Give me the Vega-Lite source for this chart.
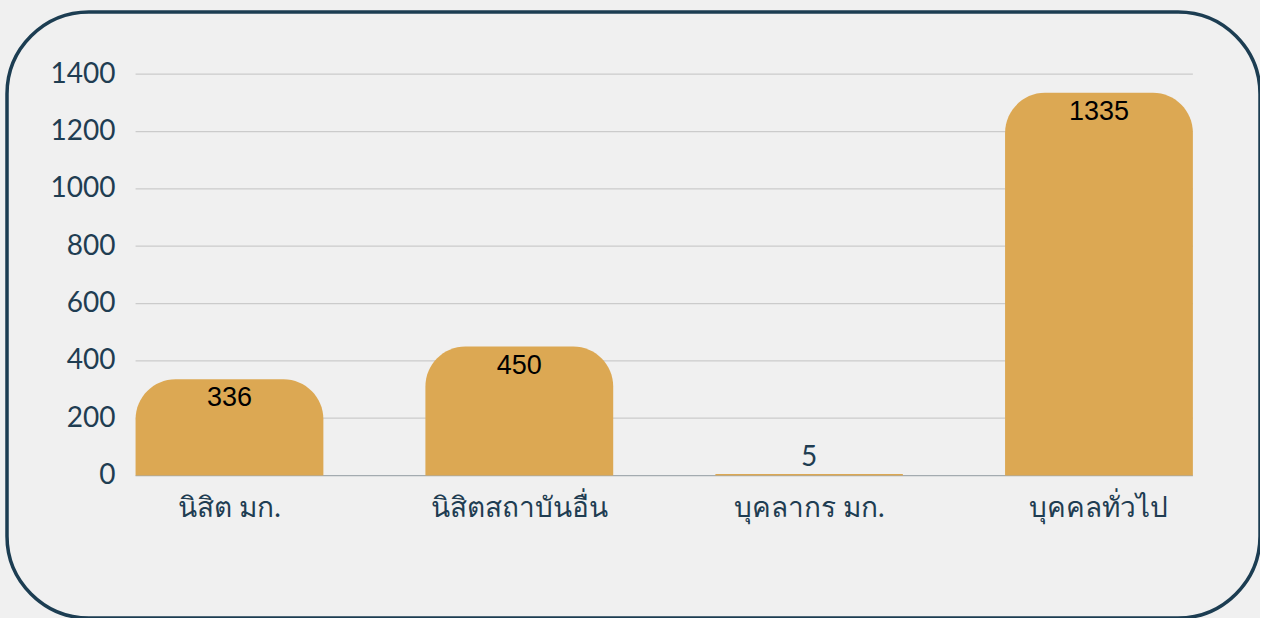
{
  "$schema": "https://vega.github.io/schema/vega-lite/v6.json",
  "width": 1253,
  "height": 606,
  "autosize": {"type": "none"},
  "padding": {"left": 7, "top": 12, "right": 0, "bottom": 0},
  "background": "#f0f0f0",
  "config": {
    "view": {"stroke": "#1c3d52", "strokeWidth": 3.5, "cornerRadius": 82, "fill": "#f0f0f0"},
    "font": "Lato",
    "axisY": {"offset": -128.5, "labelPadding": 20.5, "ticks": false, "domain": false, "grid": false, "labelFontSize": 28, "labelColor": "#1f3d52", "labelFont": "Lato", "format": "d"},
    "axisX": {"offset": -142.5, "labelPadding": 19, "ticks": false, "domain": false, "grid": false, "labelFontSize": 28, "labelColor": "#1f3d52", "labelAngle": 0, "labelFont": "Lato"}
  },
  "datasets": {
    "bars": [
      {"group": "นิสิต มก.", "count": 336},
      {"group": "นิสิตสถาบันอื่น", "count": 450},
      {"group": "บุคลากร มก.", "count": 5},
      {"group": "บุคคลทั่วไป", "count": 1335}
    ],
    "grid": [
      {"v": 0}, {"v": 200}, {"v": 400}, {"v": 600}, {"v": 800}, {"v": 1000}, {"v": 1200}, {"v": 1400}
    ]
  },
  "layer": [
    {
      "data": {"name": "grid"},
      "mark": {"type": "rule", "strokeWidth": 1.3},
      "encoding": {
        "y": {"field": "v", "type": "quantitative", "scale": {"domain": [-497, 1617], "nice": false, "zero": false}, "axis": {"title": null, "values": [0, 200, 400, 600, 800, 1000, 1200, 1400]}},
        "x": {"datum": "นิสิต มก.", "type": "nominal", "bandPosition": 0, "scale": {"domain": ["นิสิต มก.", "นิสิตสถาบันอื่น", "บุคลากร มก.", "บุคคลทั่วไป"], "paddingInner": 0.352, "paddingOuter": 0.3376, "align": 0.657}, "axis": {"title": null}},
        "x2": {"datum": "บุคคลทั่วไป", "bandPosition": 1},
        "color": {"condition": {"test": "datum.v === 0", "value": "#a3abb0"}, "value": "#cbcbcb"}
      }
    },
    {
      "data": {"name": "bars"},
      "mark": {"type": "bar", "color": "#dca853", "cornerRadiusTopLeft": 40, "cornerRadiusTopRight": 40},
      "encoding": {
        "x": {"field": "group", "type": "nominal", "scale": {"domain": ["นิสิต มก.", "นิสิตสถาบันอื่น", "บุคลากร มก.", "บุคคลทั่วไป"], "paddingInner": 0.352, "paddingOuter": 0.3376, "align": 0.657}, "axis": {"title": null}},
        "y": {"field": "count", "type": "quantitative", "scale": {"domain": [-497, 1617], "nice": false, "zero": false}, "axis": {"title": null, "values": [0, 200, 400, 600, 800, 1000, 1200, 1400]}},
        "y2": {"datum": 0}
      }
    },
    {
      "data": {"name": "bars"},
      "transform": [{"filter": "datum.count >= 50"}],
      "mark": {"type": "text", "baseline": "middle", "dy": 19, "font": "Liberation Sans", "fontSize": 27, "color": "#000000"},
      "encoding": {
        "x": {"field": "group", "type": "nominal", "scale": {"domain": ["นิสิต มก.", "นิสิตสถาบันอื่น", "บุคลากร มก.", "บุคคลทั่วไป"], "paddingInner": 0.352, "paddingOuter": 0.3376, "align": 0.657}, "axis": {"title": null}},
        "y": {"field": "count", "type": "quantitative", "scale": {"domain": [-497, 1617], "nice": false, "zero": false}, "axis": {"title": null, "values": [0, 200, 400, 600, 800, 1000, 1200, 1400]}},
        "text": {"field": "count", "type": "quantitative"}
      }
    },
    {
      "data": {"name": "bars"},
      "transform": [{"filter": "datum.count < 50"}],
      "mark": {"type": "text", "baseline": "middle", "dy": -16, "font": "Lato", "fontSize": 28, "color": "#1f3d52"},
      "encoding": {
        "x": {"field": "group", "type": "nominal", "scale": {"domain": ["นิสิต มก.", "นิสิตสถาบันอื่น", "บุคลากร มก.", "บุคคลทั่วไป"], "paddingInner": 0.352, "paddingOuter": 0.3376, "align": 0.657}, "axis": {"title": null}},
        "y": {"field": "count", "type": "quantitative", "scale": {"domain": [-497, 1617], "nice": false, "zero": false}, "axis": {"title": null, "values": [0, 200, 400, 600, 800, 1000, 1200, 1400]}},
        "text": {"field": "count", "type": "quantitative"}
      }
    }
  ]
}
